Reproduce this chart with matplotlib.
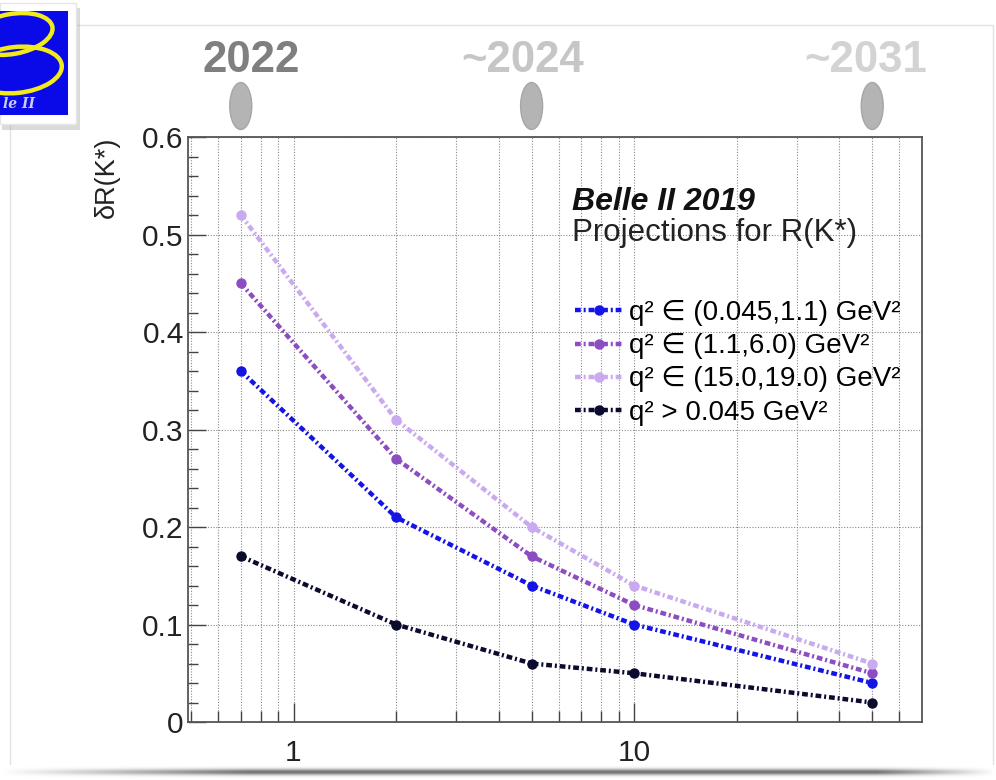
import matplotlib
matplotlib.use("Agg")
import matplotlib.pyplot as plt
import numpy as np
from matplotlib.patches import Ellipse, Rectangle
from matplotlib.transforms import IdentityTransform
from matplotlib.ticker import FixedLocator, FixedFormatter, NullFormatter

plt.rcParams['font.family'] = ['Liberation Sans', 'DejaVu Sans']

# Integrated luminosity (ab^-1) and projected uncertainty on R(K*)
lumi = [0.7, 2, 5, 10, 50]
dR_low = [0.36, 0.21, 0.14, 0.10, 0.04]
dR_central = [0.45, 0.27, 0.17, 0.12, 0.05]
dR_high = [0.52, 0.31, 0.20, 0.14, 0.06]
dR_full = [0.17, 0.10, 0.06, 0.05, 0.02]
series_labels = ['q² ∈ (0.045,1.1) GeV²', 'q² ∈ (1.1,6.0) GeV²',
                 'q² ∈ (15.0,19.0) GeV²', 'q² > 0.045 GeV²']
series_colors = ['#1414e6', '#8c4cc2', '#c9a9ef', '#0b0b2e']

x_major = [1, 10]
x_major_labels = ['1', '10']
y_major = [0, 0.1, 0.2, 0.3, 0.4, 0.5, 0.6]
y_major_labels = ['0', '0.1', '0.2', '0.3', '0.4', '0.5', '0.6']

years = ['2022', '~2024', '~2031']
year_lumi = [0.7, 5, 50]
year_text_x = [251, 523, 866]
year_colors = ['#7f7f7f', '#c6c6c6', '#d3d3d3']

W, H = 996, 780
fig = plt.figure(figsize=(W / 100, H / 100), dpi=100)
fig.patch.set_facecolor('white')


def fx(px):
    return px / W


def fy(py):
    return 1 - py / H


# slide panel with soft border and bottom shadow
fig.add_artist(Rectangle((fx(10), fy(766)), fx(993) - fx(10), (766 - 25) / H,
                         transform=fig.transFigure, facecolor='white',
                         edgecolor='#e2e2e2', lw=1.0, zorder=0))
shadow_ax = fig.add_axes([0, fy(779), 1, 14 / H], zorder=0)
gx = np.linspace(0, 1, 400)
gy = np.linspace(-1, 1, 30)
horiz = np.clip(np.minimum(gx / 0.25, (1 - gx) / 0.12), 0, 1)
vert = np.exp(-(gy / 0.45) ** 2)
shade = 1 - 0.55 * np.outer(vert, horiz)
shadow_ax.imshow(shade, cmap='gray', vmin=0, vmax=1, aspect='auto',
                 extent=[0, 1, 0, 1])
shadow_ax.axis('off')

# main plot
ax = fig.add_axes([fx(188), fy(722), fx(922) - fx(188), (722 - 137) / H], zorder=2)
ax.set_xscale('log')
ax.set_xlim(0.49, 70)
ax.set_ylim(0, 0.6)

x_minor = [v * d for d in (0.1, 1, 10) for v in range(2, 10) if 0.49 < v * d < 70]
ax.xaxis.set_major_locator(FixedLocator(x_major))
ax.xaxis.set_major_formatter(FixedFormatter(x_major_labels))
ax.xaxis.set_minor_locator(FixedLocator(x_minor))
ax.xaxis.set_minor_formatter(NullFormatter())
ax.yaxis.set_major_locator(FixedLocator(y_major))
ax.yaxis.set_major_formatter(FixedFormatter(y_major_labels))
ax.yaxis.set_minor_locator(FixedLocator(np.arange(0, 0.6001, 0.02)))

ax.grid(which='both', axis='x', ls=(0, (1, 1.5)), color='#8a8a8a', lw=0.8)
ax.grid(which='major', axis='y', ls=(0, (1, 1.5)), color='#8a8a8a', lw=0.8)
ax.set_axisbelow(True)

ax.tick_params(which='both', direction='in', top=False, right=False,
               colors='#444444', labelcolor='#222222', labelsize=21.5)
ax.tick_params(axis='y', which='major', length=13, width=1.0, pad=3)
ax.tick_params(axis='y', which='minor', length=7, width=1.0)
ax.tick_params(axis='x', which='major', length=14, width=1.0, pad=12)
ax.tick_params(axis='x', which='minor', length=8, width=1.0)
for sp in ax.spines.values():
    sp.set_color('#555555')
    sp.set_linewidth(1.3)

dash = (0, (1.3, 0.65, 0.45, 0.65))
handles = []
for vals, col, lab in zip([dR_low, dR_central, dR_high, dR_full],
                          series_colors, series_labels):
    h, = ax.plot(lumi, vals, color=col, lw=3.2, ls=dash, marker='o', ms=7.5,
                 markeredgewidth=0, label=lab, zorder=3)
    handles.append(h)

# plot labels
fig.text(fx(572), fy(202), 'Belle II 2019', fontsize=23, fontweight='bold',
         fontstyle='italic', color='#111111', ha='left', va='center', zorder=5)
fig.text(fx(572), fy(233), 'Projections for R(K*)', fontsize=22.5,
         color='#222222', ha='left', va='center', zorder=5)
ax.legend(handles=handles, loc='upper left',
          bbox_to_anchor=(fx(575), fy(300)), bbox_transform=fig.transFigure,
          frameon=False, fontsize=20, handlelength=1.75, handletextpad=0.2,
          labelspacing=0.26, borderpad=0, borderaxespad=0, numpoints=1)

fig.text(fx(107), fy(137), 'δR(K*)', rotation=90, fontsize=19.5,
         color='#222222', ha='center', va='top')

# timeline markers above the plot
fig.canvas.draw()
for yr, lv, tx, col in zip(years, year_lumi, year_text_x, year_colors):
    px = ax.transData.transform((lv, 0.3))[0]
    fig.add_artist(Ellipse((px, H - 106), 22, 47, transform=IdentityTransform(),
                           facecolor='#b4b4b4', edgecolor='#a6a6a6', lw=1.0))
    fig.text(fx(tx), fy(60), yr, fontsize=31.5, fontweight='bold', color=col,
             ha='center', va='center')

# experiment logo in the corner
lax = fig.add_axes([0, fy(132), fx(82), 132 / H], zorder=4)
lax.set_xlim(0, 82)
lax.set_ylim(132, 0)
lax.axis('off')
lax.add_patch(Rectangle((2, 8), 78, 122, facecolor='#9a9a9a', alpha=0.35,
                        edgecolor='none'))
lax.add_patch(Rectangle((0, 3), 76, 121, facecolor='white', edgecolor='#e6e6e6'))
blue = Rectangle((0, 11), 68, 104, facecolor='#0a0ae8', edgecolor='none')
lax.add_patch(blue)
for (cx, cy, w, h, ang) in [(12, 34, 82, 40, -10), (16, 70, 92, 46, -6)]:
    e = Ellipse((cx, cy), w, h, angle=ang, facecolor='none',
                edgecolor='#f2ea1a', lw=3.2)
    lax.add_patch(e)
    e.set_clip_path(blue)
lax.text(3, 104, 'le II', fontsize=10, fontstyle='italic',
         fontweight='bold', family='DejaVu Serif', color='#c9ccff',
         ha='left', va='center')

fig.savefig('out.png', dpi=100)
